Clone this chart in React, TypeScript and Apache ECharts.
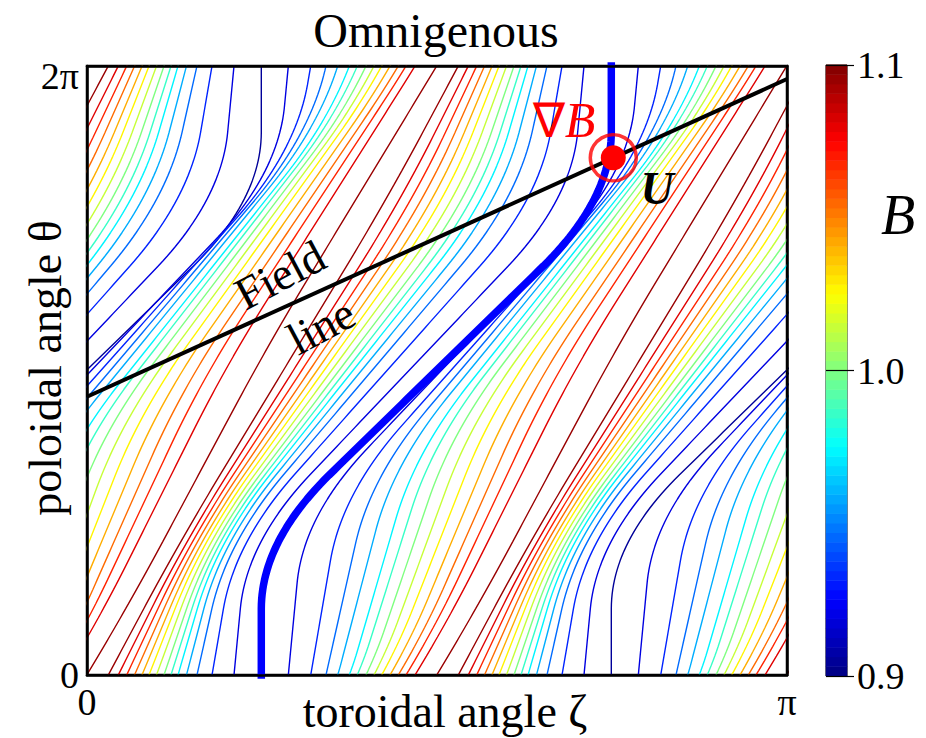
import React, { useEffect, useRef } from "react";
import * as echarts from "echarts";

const PI = Math.PI;
const FONT = '"Liberation Serif", "Times New Roman", serif';

// B value of each contour level (k = 0 is the B_min contour, drawn thick once)
const contourLevels = [0.905, 0.919, 0.932, 0.946, 0.959, 0.973, 0.986, 1.0, 1.014, 1.027, 1.041, 1.054, 1.068, 1.081, 1.095];
// where each contour meets θ = 0, in units of π (read from the bottom edge)
const maxLineZeta = 0.0143; // B_max line (period 0.5)
const minContourZeta = 0.249; // B_min contour
const rightBranchZeta = [0.2876, 0.3196, 0.3414, 0.3581, 0.3747, 0.3861, 0.3986, 0.41, 0.421, 0.4329, 0.4447, 0.4557, 0.4686, 0.4996];
const leftBranchZeta = [0.21, 0.1786, 0.1571, 0.1421, 0.13, 0.12, 0.11, 0.0993, 0.0886, 0.0786, 0.0679, 0.0567, 0.0447, 0.0304];
// field line θ = θ0 + ι ζ, end points [ζ, θ]
const fieldLine = [[0, 2.871], [PI, 6.149]];
const markerPoint = [[2.362, 5.336]];
const xTickLabels = ["0", "π"];
const yTickLabels = ["0", "2π"];
const colorbarMin = 0.9;
const colorbarMax = 1.1;
const colorbarSteps = 64;

const IOTA = (fieldLine[1][1] - fieldLine[0][1]) / (fieldLine[1][0] - fieldLine[0][0]);
// shape of the B_min contour: vertical up to θ1, then a diagonal, then vertical
const HELIX_N = 4;
const PERIOD = (2 * PI) / HELIX_N;
const THETA1 = 1.38;
const SMOOTH = 0.7;

function clamp(v: number) {
  return Math.max(0, Math.min(1, v));
}
function jet(v: number) {
  const r = clamp(1.5 - Math.abs(4 * v - 3));
  const g = clamp(1.5 - Math.abs(4 * v - 2));
  const b = clamp(1.5 - Math.abs(4 * v - 1));
  return `rgb(${Math.round(r * 255)},${Math.round(g * 255)},${Math.round(b * 255)})`;
}
function levelColor(B: number) {
  return jet((B - colorbarMin) / (colorbarMax - colorbarMin));
}

function tri(t: number) {
  let s = t % (2 * PI);
  if (s < 0) s += 2 * PI;
  if (s < THETA1) return -s / HELIX_N;
  if (s < 2 * PI - THETA1) return -THETA1 / HELIX_N + ((s - THETA1) * (2 * THETA1) / HELIX_N) / (2 * PI - 2 * THETA1);
  return (2 * PI - s) / HELIX_N;
}
function minShift(t: number) {
  const n = 28;
  let acc = 0;
  for (let i = 0; i < n; i++) acc += tri(t - SMOOTH + (2 * SMOOTH * (i + 0.5)) / n);
  return acc / n;
}
const zMin = (t: number) => minContourZeta * PI + t / HELIX_N + minShift(t);
const zMaxL = (t: number) => maxLineZeta * PI + t / HELIX_N;

// left branch: fixed fraction of the way from the B_min contour to the B_max line
function leftFraction(k: number) {
  return k === 0 ? 0 : (minContourZeta - leftBranchZeta[k - 1]) / (minContourZeta - maxLineZeta);
}
function zLeft(k: number, t: number) {
  const u = leftFraction(k);
  const zm = zMin(t);
  return zm - u * (zm - zMaxL(t));
}
// right branch: the left branch moved along the field line (same bounce distance)
function bounceShift(k: number) {
  const target = rightBranchZeta[k - 1] * PI;
  let lo = 0;
  let hi = 4;
  for (let i = 0; i < 60; i++) {
    const mid = (lo + hi) / 2;
    const f = zLeft(k, -IOTA * mid) + mid - target;
    if (f > 0) hi = mid;
    else lo = mid;
  }
  return (lo + hi) / 2;
}

function contourPoints(branch: number, k: number, copy: number) {
  const pts: number[][] = [];
  const n = 130;
  const d = branch > 0 ? bounceShift(k) : 0;
  const t0 = -IOTA * d - 0.05;
  const t1 = 2 * PI - IOTA * d + 0.05;
  for (let i = 0; i <= n; i++) {
    const t = t0 + ((t1 - t0) * i) / n;
    pts.push([zLeft(k, t) + d + copy * PERIOD, t + IOTA * d]);
  }
  return pts;
}

function buildSeries() {
  const series: any[] = [];
  const copies = [-1, 0, 1, 2];
  const addLine = (branch: number, k: number, copy: number) => {
    series.push({
      type: "line",
      xAxisIndex: 0,
      yAxisIndex: 0,
      data: contourPoints(branch, k, copy),
      showSymbol: false,
      symbol: "none",
      silent: true,
      clip: true,
      z: 2,
      lineStyle: { color: levelColor(contourLevels[k]), width: 1.4 },
    });
  };
  copies.forEach((c) => {
    addLine(0, 0, c);
    for (let k = 1; k < contourLevels.length; k++) {
      addLine(1, k, c);
      addLine(-1, k, c);
    }
  });
  series.push({
    type: "line",
    xAxisIndex: 0,
    yAxisIndex: 0,
    data: contourPoints(0, 0, 0),
    showSymbol: false,
    symbol: "none",
    silent: true,
    clip: true,
    z: 4,
    lineStyle: { color: "#0000ff", width: 7.5 },
  });
  series.push({
    type: "line",
    xAxisIndex: 0,
    yAxisIndex: 0,
    data: fieldLine,
    showSymbol: false,
    symbol: "none",
    silent: true,
    clip: true,
    z: 5,
    lineStyle: { color: "#000", width: 4 },
  });
  series.push({
    type: "scatter",
    xAxisIndex: 0,
    yAxisIndex: 0,
    data: markerPoint,
    symbol: "circle",
    symbolSize: 46,
    silent: true,
    z: 6,
    itemStyle: { color: "rgba(255,255,255,0)", borderColor: "#ff0000", borderWidth: 3.5 },
  });
  series.push({
    type: "scatter",
    xAxisIndex: 0,
    yAxisIndex: 0,
    data: markerPoint,
    symbol: "circle",
    symbolSize: 25,
    silent: true,
    z: 7,
    itemStyle: { color: "#ff0000", opacity: 1 },
  });
  const cells: number[][] = [];
  for (let i = 0; i < colorbarSteps; i++) {
    cells.push([0, i, colorbarMin + ((colorbarMax - colorbarMin) * (i + 0.5)) / colorbarSteps]);
  }
  series.push({
    type: "heatmap",
    xAxisIndex: 2,
    yAxisIndex: 2,
    data: cells,
    silent: true,
    itemStyle: { borderWidth: 0 },
  });
  return series;
}

export default function App() {
  const ref = useRef<HTMLDivElement>(null);
  useEffect(() => {
    if (!ref.current) return;
    const chart = echarts.init(ref.current, undefined, { renderer: "svg" });
    const series = buildSeries();
    const heatIndex = series.length - 1;
    const axisLine = { show: true, onZero: false, lineStyle: { color: "#000", width: 2.5 } };
    const jetStops = [0, 0.125, 0.25, 0.375, 0.5, 0.625, 0.75, 0.875, 1].map(jet);
    const option: any = {
      animation: false,
      backgroundColor: "#ffffff",
      textStyle: { fontFamily: FONT },
      grid: [
        { left: 87, top: 66, width: 700, height: 609, show: true, borderColor: "#000", borderWidth: 2.5, backgroundColor: "rgba(0,0,0,0)", outerBoundsMode: "none", containLabel: false },
        { left: 826, top: 65, width: 21, height: 611, show: true, borderColor: "#000", borderWidth: 1, backgroundColor: "rgba(0,0,0,0)", outerBoundsMode: "none", containLabel: false },
      ],
      xAxis: [
        {
          type: "value",
          gridIndex: 0,
          min: 0,
          max: PI,
          interval: PI,
          z: 10,
          axisLine,
          axisTick: { show: false },
          splitLine: { show: false },
          axisLabel: {
            formatter: (v: number) => (v < 1 ? xTickLabels[0] : xTickLabels[1]),
            fontSize: 38,
            fontFamily: FONT,
            color: "#000",
            margin: 8,
          },
        },
        {
          type: "value",
          gridIndex: 0,
          position: "top",
          min: 0,
          max: PI,
          z: 10,
          axisLine,
          axisTick: { show: false },
          splitLine: { show: false },
          axisLabel: { show: false },
        },
        { type: "category", gridIndex: 1, data: ["c"], show: false },
      ],
      yAxis: [
        {
          type: "value",
          gridIndex: 0,
          min: 0,
          max: 2 * PI,
          interval: 2 * PI,
          z: 10,
          axisLine,
          axisTick: { show: false },
          splitLine: { show: false },
          axisLabel: {
            formatter: (v: number) => (v < 1 ? yTickLabels[0] : `{t|${yTickLabels[1]}}`),
            rich: { t: { fontSize: 38, fontFamily: FONT, color: "#000", padding: [20, 0, 0, 0] } },
            fontSize: 38,
            fontFamily: FONT,
            color: "#000",
            margin: 8,
          },
        },
        {
          type: "value",
          gridIndex: 0,
          position: "right",
          min: 0,
          max: 2 * PI,
          z: 10,
          axisLine,
          axisTick: { show: false },
          splitLine: { show: false },
          axisLabel: { show: false },
        },
        {
          type: "category",
          gridIndex: 1,
          data: Array.from({ length: colorbarSteps }, (_, i) => String(i)),
          show: false,
        },
        {
          type: "value",
          gridIndex: 1,
          position: "right",
          min: colorbarMin,
          max: colorbarMax,
          interval: 0.1,
          z: 10,
          axisLine: { show: false },
          axisTick: { show: true, length: 7, lineStyle: { color: "#000", width: 1.2 } },
          splitLine: { show: true, lineStyle: { color: "#000", width: 1.2 } },
          axisLabel: {
            formatter: (v: number) => v.toFixed(1),
            fontSize: 38,
            fontFamily: FONT,
            color: "#000",
            margin: 10,
          },
        },
      ],
      visualMap: {
        type: "continuous",
        show: false,
        seriesIndex: heatIndex,
        min: colorbarMin,
        max: colorbarMax,
        inRange: { color: jetStops },
      },
      graphic: [
        { type: "text", x: 436, y: 30, z: 20, style: { text: "Omnigenous", font: `48px ${FONT}`, fill: "#000", align: "center", verticalAlign: "middle" } },
        { type: "text", x: 445, y: 711, z: 20, style: { text: "toroidal angle ζ", font: `46px ${FONT}`, fill: "#000", align: "center", verticalAlign: "middle" } },
        { type: "text", x: 45, y: 368, rotation: PI / 2, z: 20, style: { text: "poloidal angle θ", font: `46px ${FONT}`, fill: "#000", align: "center", verticalAlign: "middle" } },
        { type: "text", x: 280, y: 275, rotation: 0.49, z: 20, style: { text: "Field", font: `46px ${FONT}`, fill: "#000", align: "center", verticalAlign: "middle" } },
        { type: "text", x: 321, y: 326, rotation: 0.49, z: 20, style: { text: "line", font: `46px ${FONT}`, fill: "#000", align: "center", verticalAlign: "middle" } },
        {
          type: "text",
          x: 564,
          y: 120,
          z: 20,
          style: {
            text: "{a|∇}{b|B}",
            align: "center",
            verticalAlign: "middle",
            rich: {
              a: { font: `48px ${FONT}`, fill: "#ff0000" },
              b: { font: `italic 50px ${FONT}`, fill: "#ff0000" },
            },
          },
        },
        { type: "text", x: 657, y: 188, z: 20, style: { text: "U", font: `italic bold 46px ${FONT}`, fill: "#000", align: "center", verticalAlign: "middle" } },
        { type: "text", x: 898, y: 215, z: 20, style: { text: "B", font: `italic 56px ${FONT}`, fill: "#000", align: "center", verticalAlign: "middle" } },
      ],
      series,
    };
    chart.setOption(option);
    return () => chart.dispose();
  }, []);
  return <div ref={ref} style={{ position: "absolute", left: 0, top: 0, width: 926, height: 738, background: "#fff" }} />;
}
